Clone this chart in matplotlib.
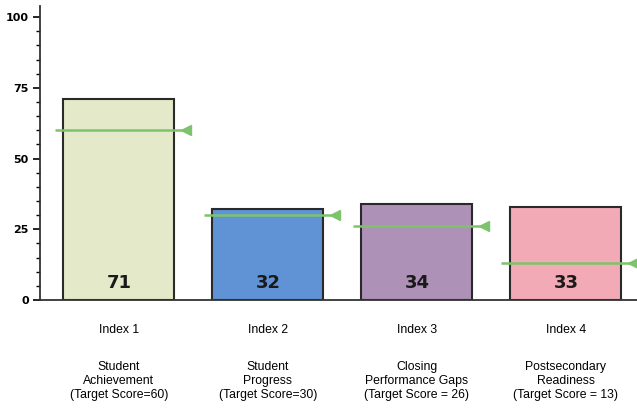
import matplotlib
matplotlib.use("Agg")
import matplotlib.pyplot as plt
from matplotlib.ticker import MultipleLocator
import matplotlib.transforms as mtransforms

index_labels = ["Index 1", "Index 2", "Index 3", "Index 4"]
descriptions = ["Student\nAchievement\n(Target Score=60)",
                "Student\nProgress\n(Target Score=30)",
                "Closing\nPerformance Gaps\n(Target Score = 26)",
                "Postsecondary\nReadiness\n(Target Score = 13)"]
scores = [71, 32, 34, 33]
targets = [60, 30, 26, 13]
colors = ["#e4e9c9", "#5f93d6", "#ad91b6", "#f1aab6"]

fig = plt.figure(figsize=(6.37, 4.12), dpi=100)
ax = fig.add_axes([0.0628, 0.2718, 0.9372, 0.7142])

x = list(range(len(scores)))
width = 0.745
ax.bar(x, scores, width=width, color=colors, edgecolor="#2a2a2a", linewidth=1.5, zorder=2)

for xi, s in zip(x, scores):
    ax.text(xi, 6, str(s), ha="center", va="center", fontsize=13,
            fontweight="bold", color="#1a1a1a", zorder=5)

for xi, t in zip(x, targets):
    x0 = xi - width / 2 - 0.06
    x1 = xi + width / 2 + 0.08
    ax.plot([x0, x1], [t, t], color="#7dc36b", linewidth=1.8, zorder=4, solid_capstyle="butt")
    ax.plot([x1], [t], marker="<", color="#7dc36b", markersize=7, zorder=4, clip_on=False)

ax.set_xlim(-0.53, 3.477)
ax.set_ylim(0, 104)
ax.set_yticks([0, 25, 50, 75, 100])
ax.yaxis.set_minor_locator(MultipleLocator(5))
ax.tick_params(axis="y", which="major", length=5, width=1.2, labelsize=8, pad=3)
ax.tick_params(axis="y", which="minor", length=3, width=1)
for lab in ax.get_yticklabels():
    lab.set_fontweight("bold")
ax.set_xticks([])
for side in ["top", "right"]:
    ax.spines[side].set_visible(False)
ax.spines["left"].set_linewidth(1.3)
ax.spines["bottom"].set_linewidth(1.3)
ax.spines["left"].set_color("#333333")
ax.spines["bottom"].set_color("#333333")

trans = mtransforms.blended_transform_factory(ax.transData, fig.transFigure)
for xi, il, d in zip(x, index_labels, descriptions):
    ax.text(xi, 1 - 330 / 412, il, transform=trans, ha="center", va="center",
            fontsize=8.8, family="Liberation Sans", color="#000000")
    ax.text(xi, 1 - 381 / 412, d, transform=trans, ha="center", va="center",
            fontsize=8.8, family="Liberation Sans", color="#000000", linespacing=1.25)

fig.savefig("out.png", dpi=100)
